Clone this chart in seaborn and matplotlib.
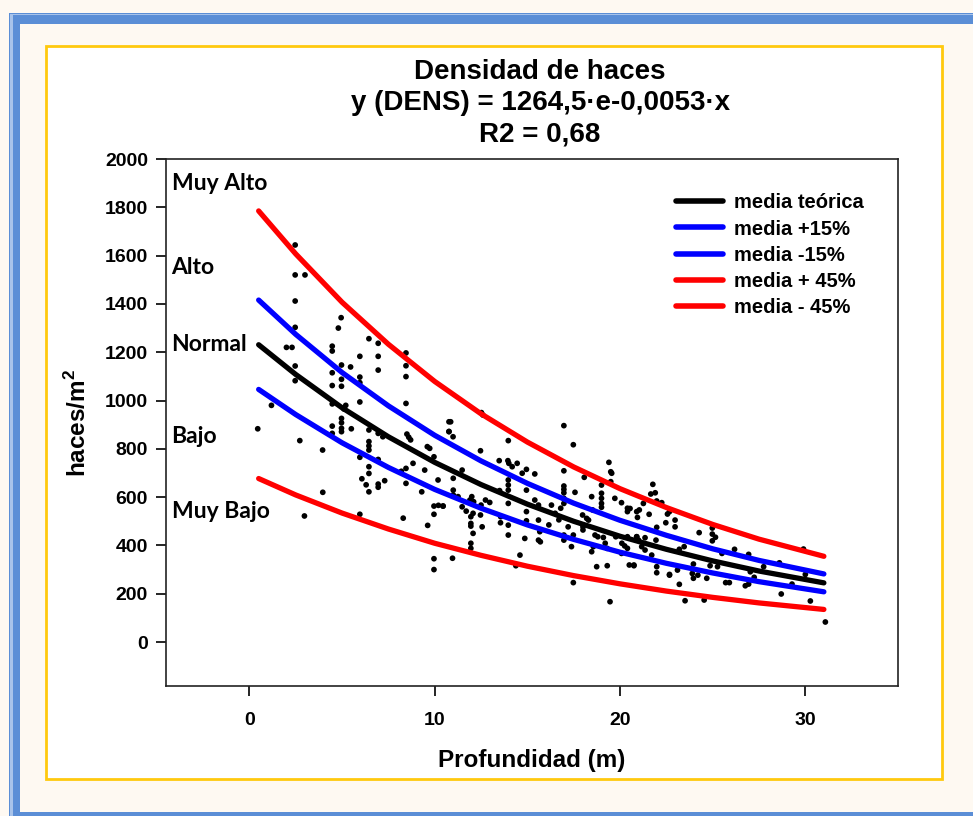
import numpy as np
import pandas as pd
import seaborn as sns
import matplotlib.pyplot as plt
from matplotlib.patches import Rectangle

# --- data ---
depth_pts = [
    2.47, 2.47, 3.0, 2.47, 4.95, 4.8, 2.47, 2.0, 2.3, 6.45, 6.95, 4.47, 4.47, 5.96, 6.95,
    8.45, 8.45, 8.45, 6.95, 2.47, 2.47, 4.97, 5.46, 4.47, 4.97, 4.97, 5.96, 5.96, 4.47,
    5.96, 8.45, 4.47, 5.2, 5.1, 1.19, 0.45, 2.72, 3.95, 4.97, 4.97, 4.97, 4.97, 4.47,
    4.47, 5.5, 6.45, 6.45, 6.45, 6.45, 6.95, 7.2, 5.96, 6.45, 6.45, 6.07, 6.3, 6.45,
    6.95, 6.95, 7.3, 6.95, 8.5, 8.6, 8.7, 8.83, 8.45, 8.45, 8.2, 9.3, 9.46, 9.6, 9.73,
    9.96, 10.18, 3.96, 2.97, 5.96, 8.3, 9.62, 9.96, 9.96, 10.2, 10.45, 9.96, 9.96,
    10.77, 10.77,
    12.52, 12.6, 10.86, 10.77, 10.99, 13.97, 12.47, 16.97, 17.48, 13.48, 13.95, 14.0,
    14.45, 14.95, 14.18, 14.72, 15.4, 13.97, 13.97, 13.97, 11.0, 11.0, 11.0, 11.48,
    16.97, 16.97, 16.97, 16.97, 16.97, 16.97, 17.57, 19.4, 19.5, 19.55, 19.5, 19.0,
    18.47, 19.0, 19.0, 19.0, 19.0, 19.72, 20.08, 20.4, 20.4, 20.9, 14.95, 13.97, 10.45,
    11.26, 11.48, 11.7, 11.9, 12.0, 12.1, 11.95, 11.95, 11.95, 12.07, 12.07, 11.95,
    11.95, 12.47, 12.56, 12.74, 12.97, 13.55, 13.97, 13.97, 14.86, 14.95, 14.95, 15.4,
    15.6, 15.6, 15.6, 15.7, 16.3, 16.5, 16.7, 16.8, 16.97, 16.97, 17.2, 17.38, 17.48,
    17.98, 18.2, 18.3, 18.52, 18.0, 18.0, 18.47, 18.56, 18.74, 18.65, 18.8, 19.1, 19.2,
    19.3, 19.31, 19.46, 19.77, 20.1, 20.25, 20.4, 20.4, 20.5, 20.75, 20.08, 20.9, 21.0,
    14.6, 14.38, 17.48, 10.96, 12.5, 13.5, 13.56, 15.67, 16.16, 18.07,
    21.77, 21.66, 21.9, 21.98, 22.25, 21.26, 21.04, 21.57, 20.94, 22.56, 22.67, 22.97,
    22.97, 22.47, 21.98, 21.94, 21.35, 20.9, 21.17, 21.35, 21.71, 20.75, 21.98, 21.98,
    22.67, 23.2, 23.51, 23.46, 23.2, 24.27, 24.98, 24.98, 25.15, 24.98, 25.5, 25.26,
    24.86, 24.68, 23.96, 23.9, 23.96, 24.2, 23.1, 22.67, 24.54, 25.7, 25.9, 26.18,
    26.94, 27.03, 27.24, 26.76, 26.94, 27.75, 28.6, 28.7, 29.28, 29.9, 30.0, 30.27,
    31.08, 20.54,
]
haces_pts = [
    1644, 1520, 1520, 1412, 1343, 1300, 1303, 1220, 1220, 1256, 1237, 1225, 1205, 1183,
    1183, 1197, 1144, 1099, 1126, 1143, 1082, 1147, 1139, 1115, 1088, 1059, 1097, 1074,
    1062, 994, 988, 986, 980, 965, 980, 883, 834, 795, 926, 908, 885, 871, 894, 864, 883,
    878, 830, 812, 795, 864, 850, 765, 726, 698, 676, 651, 622, 654, 641, 668, 756, 861,
    848, 837, 740, 719, 657, 707, 622, 712, 809, 802, 767, 671, 620, 522, 529, 513, 483,
    563, 529, 566, 563, 345, 300, 912, 872,
    950, 940, 912, 871, 850, 834, 792, 896, 817, 751, 751, 740, 740, 715, 726, 699, 696,
    671, 650, 629, 678, 629, 609, 712, 709, 646, 632, 618, 595, 574, 620, 744, 705, 699,
    664, 650, 602, 616, 595, 574, 558, 595, 577, 554, 540, 540, 629, 574, 563, 602, 560,
    542, 588, 602, 581, 491, 480, 519, 533, 450, 409, 388, 526, 477, 588, 578, 494, 484,
    443, 429, 540, 502, 588, 567, 505, 422, 415, 567, 533, 506, 554, 443, 422, 477, 395,
    443, 526, 512, 505, 547, 464, 477, 374, 395, 312, 443, 436, 433, 409, 388, 316, 167,
    436, 409, 398, 436, 388, 319, 316, 367, 436, 422, 360, 316, 246, 347, 567, 627, 519,
    457, 485, 682,
    653, 613, 618, 584, 577, 574, 547, 529, 516, 530, 540, 505, 477, 494, 475, 422, 432,
    436, 395, 381, 360, 319, 312, 287, 280, 239, 171, 395, 384, 453, 472, 447, 434, 419,
    367, 312, 316, 264, 323, 284, 264, 277, 298, 277, 174, 246, 246, 384, 363, 291, 268,
    233, 240, 312, 328, 199, 240, 385, 280, 170, 83, 553,
]

# model curves (1264,5·e-0,053·x and +/-15 %, +/-45 %), read at these depths
depth_curve = [0.5, 2.5, 5, 7.5, 10, 12.5, 15, 17.5, 20, 22.5, 25, 27.5, 31]
mean_curve = [1231, 1108, 970, 850, 744, 652, 571, 500, 438, 384, 336, 294, 245]
plus15 = [1416, 1274, 1116, 978, 856, 750, 657, 575, 504, 442, 386, 338, 282]
minus15 = [1046, 942, 825, 723, 632, 554, 485, 425, 372, 326, 286, 250, 208]
plus45 = [1785, 1607, 1407, 1233, 1079, 945, 828, 725, 635, 557, 487, 426, 355]
minus45 = [677, 609, 534, 468, 409, 359, 314, 275, 241, 211, 185, 162, 135]

series_names = ['media teórica', 'media +15%', 'media -15%', 'media + 45%', 'media - 45%']
series_colors = ['black', '#0000FF', '#0000FF', '#FF0000', '#FF0000']

levels = ['Muy Alto', 'Alto', 'Normal', 'Bajo', 'Muy Bajo']
level_y = [1897, 1549, 1230, 853, 542]

x_ticks = [0, 10, 20, 30]
y_ticks = list(range(0, 2001, 200))

# --- build frames ---
points = pd.DataFrame({'depth': depth_pts, 'haces': haces_pts})
curves = pd.concat([
    pd.DataFrame({'depth': depth_curve, 'haces': vals, 'serie': name})
    for name, vals in zip(series_names, [mean_curve, plus15, minus15, plus45, minus45])
])

sns.set_style('ticks')
plt.rcParams['font.family'] = ['Liberation Sans', 'DejaVu Sans']
plt.rcParams['font.weight'] = 'bold'
plt.rcParams['mathtext.fontset'] = 'custom'
plt.rcParams['mathtext.bf'] = 'Liberation Sans:bold'
plt.rcParams['mathtext.rm'] = 'Liberation Sans:bold'
for key in ['text.color', 'axes.labelcolor', 'xtick.color', 'ytick.color']:
    plt.rcParams[key] = 'black'

W, H = 973, 816
fig = plt.figure(figsize=(W / 100, H / 100), dpi=100)
fig.patch.set_facecolor('#FEF9F2')


def px_rect(x0, y0, x1, y1, **kw):
    fig.add_artist(Rectangle((x0 / W, 1 - y1 / H), (x1 - x0) / W, (y1 - y0) / H,
                             transform=fig.transFigure, **kw))


# page frame: blue double border, beige page, yellow inner box
px_rect(8.5, 12.5, 1100, 900, facecolor='#5B8ED6', edgecolor='none', zorder=-5)
px_rect(10.3, 14.0, 1100, 900, facecolor='#A8C3EA', edgecolor='none', zorder=-5)
px_rect(12.7, 15.3, 1100, 900, facecolor='#5B8ED6', edgecolor='none', zorder=-5)
px_rect(20, 24, 1100, 811.5, facecolor='#FEF9F2', edgecolor='none', zorder=-5)
px_rect(46, 46, 942, 779, facecolor='white', edgecolor='#FFC90E', linewidth=2, zorder=-4)

ax = fig.add_axes([166 / W, 1 - 686 / H, (898 - 166) / W, (686 - 159) / H])
ax.set_facecolor('white')

sns.scatterplot(data=points, x='depth', y='haces', color='black', s=17,
                edgecolor='none', ax=ax, zorder=2, legend=False)
sns.lineplot(data=curves, x='depth', y='haces', hue='serie', hue_order=series_names,
             palette=dict(zip(series_names, series_colors)), linewidth=3.8,
             ax=ax, zorder=3)

ax.set_xlim(-4.5, 35)
ax.set_ylim(-182, 2000)
ax.set_xticks(x_ticks)
ax.set_yticks(y_ticks)
ax.tick_params(axis='both', labelsize=14, length=7, width=1.2, direction='out')
ax.tick_params(axis='x', pad=12)
ax.tick_params(axis='y', pad=6)
for lab in ax.get_xticklabels() + ax.get_yticklabels():
    lab.set_fontweight('bold')
for sp in ax.spines.values():
    sp.set_visible(True)
    sp.set_linewidth(1.2)
    sp.set_color('#222222')

ax.set_xlabel('Profundidad (m)', fontsize=17.5, fontweight='bold', labelpad=14)
ax.set_ylabel(r'haces/m$^{\mathbf{2}}$', fontsize=17.5, fontweight='bold', labelpad=10)

for name, yv in zip(levels, level_y):
    ax.text(-4.2, yv, name, fontsize=16.5, fontweight='bold', va='center', ha='left',
            family=['Lato', 'DejaVu Sans'])

fig.text(0.555, 1 - 72 / H, 'Densidad de haces', ha='center', va='center',
         fontsize=20, fontweight='bold')
fig.text(0.555, 1 - 103 / H, 'y (DENS) = 1264,5·e-0,0053·x', ha='center', va='center',
         fontsize=20, fontweight='bold')
fig.text(0.555, 1 - 135 / H, 'R2 = 0,68', ha='center', va='center',
         fontsize=20, fontweight='bold')

leg = ax.legend(loc='upper left', bbox_to_anchor=(0.697, 0.935), frameon=False,
                fontsize=14.5, handlelength=2.3, handletextpad=0.55, labelspacing=0.36,
                borderaxespad=0, borderpad=0)
for t in leg.get_texts():
    t.set_fontweight('bold')
for ln in leg.get_lines():
    ln.set_linewidth(4)

fig.savefig('out.png', dpi=100, facecolor=fig.get_facecolor())
